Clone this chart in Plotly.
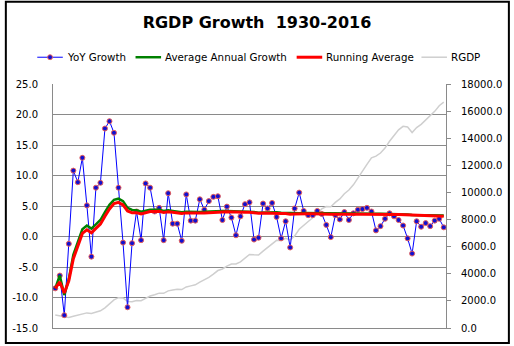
import plotly.graph_objects as go

years = list(range(1930, 2017))

yoy_growth = [-8.5, -6.4, -12.9, -1.2, 10.8, 8.9, 12.9, 5.1, -3.3, 8.0,
              8.8, 17.7, 18.9, 17.0, 8.0, -1.0, -11.6, -1.1, 4.1, -0.6,
              8.7, 8.0, 4.1, 4.7, -0.6, 7.1, 2.1, 2.1, -0.7, 6.9,
              2.6, 2.6, 6.1, 4.4, 5.8, 6.5, 6.6, 2.7, 4.9, 3.1,
              0.2, 3.3, 5.3, 5.6, -0.5, -0.2, 5.4, 4.6, 5.5, 3.2,
              -0.3, 2.5, -1.8, 4.6, 7.2, 4.2, 3.5, 3.5, 4.2, 3.7,
              1.9, -0.1, 3.5, 2.8, 4.0, 2.7, 3.8, 4.4, 4.5, 4.7,
              4.1, 1.0, 1.7, 2.9, 3.8, 3.3, 2.7, 1.8, -0.3, -2.8,
              2.5, 1.6, 2.2, 1.7, 2.6, 2.9, 1.5]

avg_annual_growth = [-8.5, -6.4, -9.6, -7.0, -3.0, -0.9, 1.2, 1.8, 1.3, 2.0,
                     2.7, 4.0, 5.2, 6.0, 6.2, 5.8, 4.7, 4.35, 4.3, 4.05,
                     4.25, 4.4, 4.4, 4.4, 4.2, 4.3, 4.2, 4.15, 3.98, 4.07,
                     4.02, 3.97, 4.03, 4.04, 4.09, 4.15, 4.22, 4.17, 4.19, 4.16,
                     4.07, 4.04, 4.08, 4.1, 4.0, 3.91, 3.95, 3.95, 3.99, 3.97,
                     3.89, 3.87, 3.76, 3.78, 3.83, 3.84, 3.84, 3.83, 3.84, 3.84,
                     3.81, 3.75, 3.75, 3.73, 3.74, 3.72, 3.73, 3.74, 3.75, 3.76,
                     3.77, 3.73, 3.71, 3.70, 3.70, 3.70, 3.68, 3.66, 3.61, 3.53,
                     3.52, 3.50, 3.48, 3.46, 3.45, 3.45, 3.43]

running_average = [-8.5, -7.45, -9.27, -7.25, -3.64, -1.55, 0.51, 1.09, 0.60, 1.34,
                   2.02, 3.33, 4.52, 5.41, 5.59, 5.18, 4.19, 3.89, 3.91, 3.68,
                   3.92, 4.10, 4.10, 4.13, 3.94, 4.06, 3.99, 3.92, 3.76, 3.87,
                   3.83, 3.79, 3.86, 3.87, 3.93, 4.00, 4.07, 4.03, 4.06, 4.03,
                   3.94, 3.92, 3.96, 3.99, 3.89, 3.80, 3.84, 3.85, 3.89, 3.87,
                   3.79, 3.77, 3.66, 3.68, 3.74, 3.75, 3.75, 3.74, 3.75, 3.75,
                   3.72, 3.66, 3.66, 3.64, 3.65, 3.63, 3.64, 3.65, 3.66, 3.67,
                   3.68, 3.64, 3.62, 3.61, 3.61, 3.61, 3.59, 3.57, 3.52, 3.44,
                   3.43, 3.41, 3.39, 3.37, 3.36, 3.36, 3.34]

rgdp = [966.7, 904.8, 788.2, 778.3, 862.2, 939.0, 1060.5, 1114.6, 1077.7, 1163.6,
        1266.1, 1490.3, 1771.8, 2073.7, 2239.4, 2217.8, 1960.9, 1939.4, 2020.0, 2008.9,
        2184.0, 2360.0, 2456.1, 2571.4, 2556.9, 2739.0, 2797.4, 2856.3, 2835.3, 3031.0,
        3108.7, 3188.1, 3383.1, 3530.4, 3734.0, 3976.7, 4238.9, 4355.2, 4569.0, 4712.5,
        4722.0, 4877.6, 5134.3, 5424.1, 5396.0, 5385.4, 5675.4, 5937.0, 6267.2, 6466.2,
        6450.4, 6617.7, 6491.3, 6792.0, 7285.0, 7593.8, 7860.5, 8132.6, 8474.5, 8786.4,
        8955.0, 8948.4, 9266.6, 9521.0, 9905.4, 10174.8, 10561.0, 11034.9, 11525.9, 12065.9,
        12559.7, 12682.2, 12908.8, 13271.1, 13773.5, 14234.2, 14613.8, 14873.7, 14830.4, 14418.7,
        14783.8, 15020.6, 15354.6, 15612.2, 15982.3, 16397.2, 16662.2]

left_ticks = [25, 20, 15, 10, 5, 0, -5, -10, -15]
left_tick_text = ["25.0", "20.0", "15.0", "10.0", "5.0", "0.0", "-5.0", "-10.0", "-15.0"]
right_ticks = [0, 2000, 4000, 6000, 8000, 10000, 12000, 14000, 16000, 18000]
right_tick_text = ["0.0", "2000.0", "4000.0", "6000.0", "8000.0", "10000.0",
                   "12000.0", "14000.0", "16000.0", "18000.0"]
series_names = ["YoY Growth", "Average Annual Growth", "Running Average", "RGDP"]

FONT = "DejaVu Sans"
GRID = "#8a8a8a"
COLORS = ["#0000ff", "#008000", "#ff0000", "#cfcfcf"]
WIDTHS = [1, 2.5, 3, 1.5]
MARKER_FILL = "#1010d0"
MARKER_EDGE = "#e8605a"

fig = go.Figure()

# RGDP on primary (right) axis so it sits beneath the growth lines
fig.add_trace(go.Scatter(x=years, y=rgdp, name=series_names[3], mode="lines",
                         line=dict(color=COLORS[3], width=WIDTHS[3]), yaxis="y"))
fig.add_trace(go.Scatter(x=years, y=yoy_growth, name=series_names[0], mode="lines+markers",
                         line=dict(color=COLORS[0], width=WIDTHS[0]),
                         marker=dict(symbol="circle", size=5, color=MARKER_FILL,
                                     line=dict(color=MARKER_EDGE, width=1)),
                         yaxis="y2"))
fig.add_trace(go.Scatter(x=years, y=avg_annual_growth, name=series_names[1],
                         mode="lines", line=dict(color=COLORS[1], width=WIDTHS[1]),
                         yaxis="y2"))
fig.add_trace(go.Scatter(x=years, y=running_average, name=series_names[2],
                         mode="lines", line=dict(color=COLORS[2], width=WIDTHS[2]),
                         yaxis="y2"))

plot_l, plot_r, plot_t, plot_b = 49, 449, 84, 330
W, H = 514, 346
pw, ph = plot_r - plot_l, plot_b - plot_t

def px(xp):
    return (xp - plot_l) / pw

def py(yp):
    return (plot_b - yp) / ph

# hand-drawn legend (single row, Excel style)
legend_y = 57
legend_starts = [33, 133, 297, 424]
sym_len = 26
shapes = [dict(type="rect", xref="paper", yref="paper",
               x0=px(1), x1=px(513), y0=py(345), y1=py(1),
               line=dict(color="black", width=2), layer="above")]
annotations = []
for i, name in enumerate(series_names):
    x0 = legend_starts[i]
    shapes.append(dict(type="line", xref="paper", yref="paper",
                       x0=px(x0), x1=px(x0 + sym_len), y0=py(legend_y), y1=py(legend_y),
                       line=dict(color=COLORS[i], width=WIDTHS[i] if i else 1)))
    if i == 0:
        c = x0 + sym_len / 2
        shapes.append(dict(type="circle", xref="paper", yref="paper",
                           x0=px(c - 2.5), x1=px(c + 2.5),
                           y0=py(legend_y + 2.5), y1=py(legend_y - 2.5),
                           fillcolor=MARKER_FILL, line=dict(color=MARKER_EDGE, width=1)))
    annotations.append(dict(text=name, xref="paper", yref="paper",
                            x=px(x0 + sym_len + 2), y=py(legend_y),
                            xanchor="left", yanchor="middle", showarrow=False,
                            font=dict(family=FONT, size=10.3, color="black")))

fig.update_layout(
    width=W, height=H,
    margin=dict(l=plot_l, r=W - plot_r, t=plot_t, b=H - plot_b, pad=0),
    paper_bgcolor="white", plot_bgcolor="white",
    font=dict(family=FONT, size=10, color="black"),
    title=dict(text="<b>RGDP Growth  1930-2016</b>", x=0.5, xanchor="center",
               y=1 - 22 / H, yanchor="middle",
               font=dict(family=FONT, size=16, color="black")),
    showlegend=False,
    xaxis=dict(range=[1929.5, 2016.5], showgrid=False, zeroline=False,
               showticklabels=False, ticks="", showline=True, linecolor=GRID,
               linewidth=1, mirror=False),
    yaxis=dict(side="right", range=[0, 18000], tickvals=right_ticks,
               ticktext=right_tick_text, showgrid=False, zeroline=False,
               showline=True, linecolor=GRID, linewidth=1, ticks="outside",
               ticklen=4, tickcolor=GRID, ticklabelstandoff=8,
               tickfont=dict(family=FONT, size=10, color="black")),
    yaxis2=dict(side="left", overlaying="y", range=[-15, 25], tickvals=left_ticks,
                ticktext=left_tick_text, showgrid=True, gridcolor=GRID, gridwidth=1,
                zeroline=False, showline=True, linecolor=GRID, linewidth=1,
                ticks="", ticklabelstandoff=12,
                tickfont=dict(family=FONT, size=10, color="black")),
    shapes=shapes,
    annotations=annotations,
)

fig.write_html("out.html")
